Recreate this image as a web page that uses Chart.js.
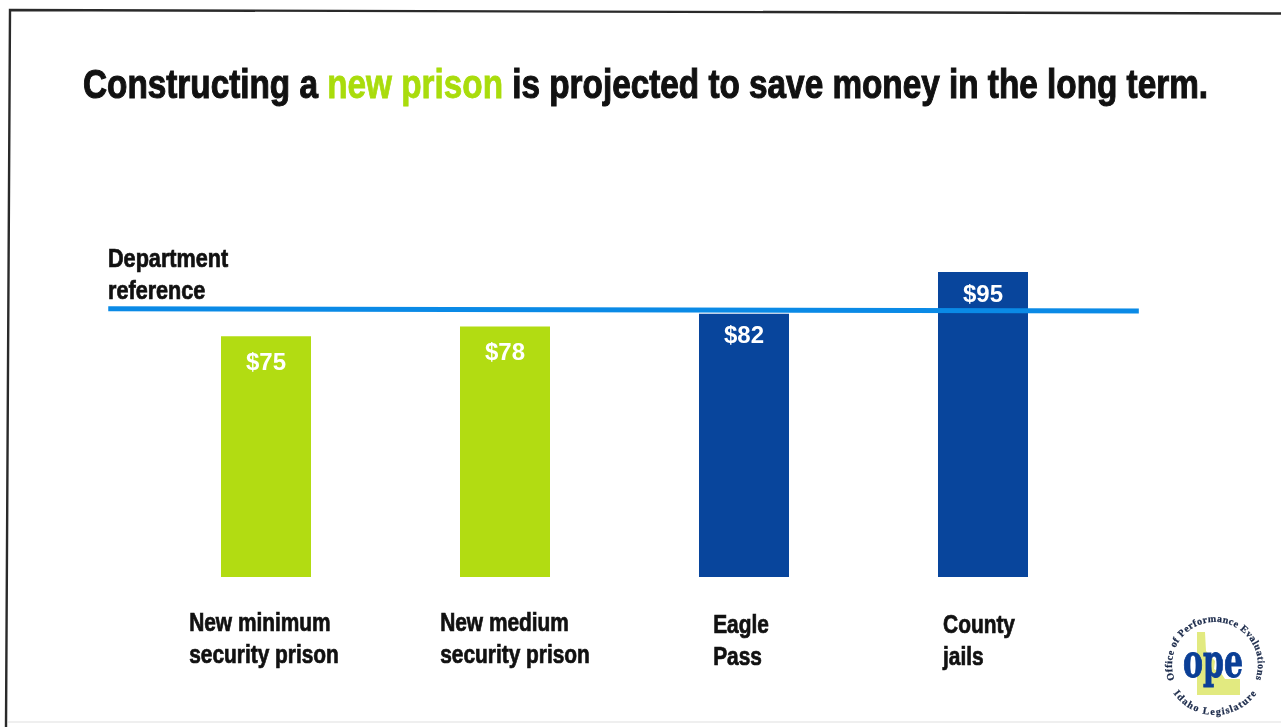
<!DOCTYPE html>
<html><head><meta charset="utf-8">
<script src="https://cdn.jsdelivr.net/npm/chart.js@4"></script>
<style>
html,body{margin:0;padding:0;background:#fff;width:1281px;height:727px;overflow:hidden}
#wrap{position:relative;width:1281px;height:727px}
canvas{position:absolute;left:0;top:0}
#title{position:absolute;left:83px;top:61px;white-space:nowrap;font:700 41px "Liberation Sans",sans-serif;color:#111;-webkit-text-stroke:1.1px #111;line-height:46px;transform-origin:0 0}
#title span{color:#a9dc0c;-webkit-text-stroke:.8px #a9dc0c}
svg{position:absolute;left:0;top:0}
</style></head><body>
<div id="wrap">
<canvas id="c" width="1281" height="727"></canvas>
<div id="title">Constructing a <span>new prison</span> is projected to save money in the long term.</div>
<svg width="1281" height="727" viewBox="0 0 1281 727">
  <path d="M8 722 L1281 722" fill="none" stroke="#efefef" stroke-width="2"/>
  <path d="M1281 13.5 L10 10 L6 727" fill="none" stroke="#2a2a2a" stroke-width="2.4"/>
  <g transform="translate(1215 665)">
    <path d="M-18 -33 L-10 -33 L-9 -14 L0 -4 L-1 4 L6 8 L10 14 L25 14 L25 30 L-18 30 Z" fill="#e2ea80"/>
    <defs>
      <path id="arcTop" d="M-38 20 A43 43 0 1 1 38 20"/>
      <path id="arcBot" d="M-36 24 A44 44 0 0 0 36 24"/>
    </defs>
    <text font-family="'Liberation Serif',serif" font-weight="700" font-size="10" fill="#1b2a4a" stroke="#1b2a4a" stroke-width=".25" letter-spacing=".5"><textPath href="#arcTop" startOffset="50%" text-anchor="middle">Office of Performance Evaluations</textPath></text>
    <text font-family="'Liberation Serif',serif" font-weight="700" font-size="10" fill="#1b2a4a" stroke="#1b2a4a" stroke-width=".25" letter-spacing=".5"><textPath href="#arcBot" startOffset="50%" text-anchor="middle" dominant-baseline="hanging">Idaho Legislature</textPath></text>
    <text x="-32" y="12" font-family="'DejaVu Serif','Liberation Serif',serif" font-weight="700" font-size="46" fill="#0b3f96" stroke="#0b3f96" stroke-width="1" textLength="60" lengthAdjust="spacingAndGlyphs">ope</text>
  </g>
</svg>
</div>
<script>
const categories = [["New minimum","security prison"],["New medium","security prison"],["Eagle","Pass"],["County","jails"]];
const costs = [75,78,82,95];
const barColors = ["#b2dc12","#b2dc12","#08459c","#08459c"];
const valueLabels = ["$75","$78","$82","$95"];
const referenceLine = [{x:-0.04,y:83.6},{x:1.038,y:82.9}];
const referenceLabel = ["Department","reference"];
const SANS = '"Liberation Sans",sans-serif';

function squeezed(ctx,text,x,y,sx,stroke){
  ctx.save();
  ctx.translate(x,y);
  ctx.scale(sx,1);
  ctx.fillText(text,0,0);
  if(stroke) ctx.strokeText(text,0,0);
  ctx.restore();
}

const textPlugin = {
  id:'textPlugin',
  afterDatasetsDraw(chart){
    const {ctx,scales:{x,y}} = chart;
    const valueDrop=[34,33,29,30];
    const labelShift=[-2,10,-3,-4];
    const labelDrop=[0,0,2,2];
    const labelSqueeze=.835;
    ctx.save();
    ctx.textBaseline='alphabetic';
    ctx.textAlign='center';
    ctx.fillStyle='#fff';
    ctx.font='700 24px '+SANS;
    costs.forEach((v,i)=>ctx.fillText(valueLabels[i],x.getPixelForValue(i),y.getPixelForValue(v)+valueDrop[i]));
    ctx.textAlign='left';
    ctx.fillStyle='#111';
    ctx.strokeStyle='#111';
    ctx.lineWidth=.7;
    ctx.font='700 25px '+SANS;
    categories.forEach((lines,i)=>{
      const w=Math.max(...lines.map(l=>ctx.measureText(l).width))*labelSqueeze;
      const px=x.getPixelForValue(i)-w/2+labelShift[i];
      lines.forEach((l,j)=>{
        squeezed(ctx,l,px,y.getPixelForValue(0)+54+labelDrop[i]+j*32,labelSqueeze,true);
      });
    });
    referenceLabel.forEach((l,j)=>{
      squeezed(ctx,l,108,y.getPixelForValue(referenceLine[0].y)-42+j*32,.865,true);
    });
    ctx.restore();
  }
};

new Chart(document.getElementById('c'),{
  type:'bar',
  data:{
    labels:categories,
    datasets:[
      {type:'line',data:referenceLine,xAxisID:'xRef',borderColor:'#0a8ae6',borderWidth:5,pointRadius:0,clip:false,order:0,tension:0},
      {type:'bar',data:costs,backgroundColor:barColors,categoryPercentage:1,barPercentage:.3766,grouped:false,order:1}
    ]
  },
  options:{
    responsive:false,animation:false,
    layout:{padding:{left:146.5,right:178.5,top:256,bottom:150}},
    plugins:{legend:{display:false},tooltip:{enabled:false},title:{display:false}},
    scales:{
      x:{type:'category',display:false,offset:true},
      xRef:{type:'linear',display:false,min:0,max:1,offset:false},
      y:{display:false,min:0,max:100}
    }
  },
  plugins:[textPlugin]
});
const t=document.getElementById('title');
t.style.transform='scaleX('+(1125/t.getBoundingClientRect().width)+')';
</script>
</body></html>
